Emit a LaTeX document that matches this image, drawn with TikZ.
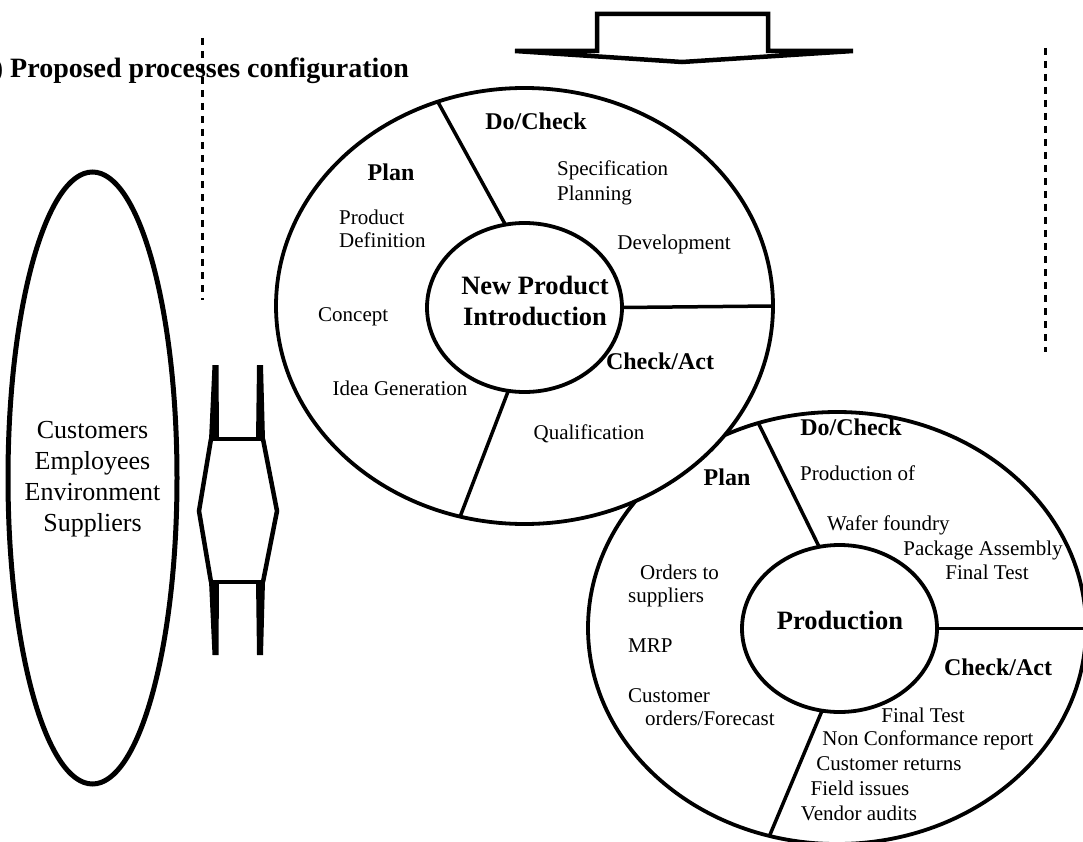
\documentclass[tikz,border=0pt]{standalone}
\usepackage{fontspec}
\setmainfont{Liberation Serif}
\usetikzlibrary{shapes.geometric}
\tikzset{
  ring/.style={draw, ellipse, inner sep=0pt, outer sep=0pt, line width=3.8pt},
  div/.style={line width=3.5pt},
  txt/.style={font=\fontsize{21}{25}\selectfont, inner sep=0pt, anchor=mid},
  txtl/.style={txt, anchor=mid west},
  lab/.style={font=\bfseries\fontsize{24}{28}\selectfont, inner sep=0pt, anchor=mid},
  core/.style={font=\bfseries\fontsize{26.5}{31}\selectfont, inner sep=0pt, anchor=mid},
  stake/.style={font=\fontsize{26}{31}\selectfont, inner sep=0pt, anchor=mid},
  dashline/.style={line width=3pt, dash pattern=on 7pt off 6pt},
  blockarrow/.style={line width=4.5pt, line join=miter},
}
\begin{document}
\begin{tikzpicture}[x=1pt,y=-1pt]
\useasboundingbox (0,0) rectangle (1083,842);
\clip (0,0) rectangle (1083,842);

% title
\node[anchor=base west, font=\bfseries\fontsize{28}{33}\selectfont, inner sep=0pt] (title) at (-6.3,78) {) Proposed processes configuration};

% dashed separators
\coordinate (dl1) at (202,38); \coordinate (dl2) at (202,300);
\coordinate (dr1) at (1045,48); \coordinate (dr2) at (1045,352);
\draw[dashline] (dl1) -- (dl2);
\draw[dashline] (dr1) -- (dr2);

% top block arrow
\draw[blockarrow, fill=white] (597,14) -- (768,14) -- (768,51) -- (853,51) -- (682,62) -- (515,51) -- (597,51) -- cycle;

% stakeholders ellipse
\node[ring, line width=5pt, minimum width=169pt, minimum height=612pt] (stake) at (92.5,478) {};
\node[stake] (s1) at (92.5,436) {Customers};
\node[stake] (s2) at (92.5,467) {Employees};
\node[stake] (s3) at (92.5,498) {Environment};
\node[stake] (s4) at (92.5,529) {Suppliers};

% double arrow
\fill (212.5,365) -- (218.5,365) -- (219,440) -- (209,440) -- cycle;
\fill (209,581) -- (219,581) -- (218.5,655) -- (212.5,655) -- cycle;
\fill (257,365) -- (263,365) -- (265,440) -- (256,440) -- cycle;
\fill (256,581) -- (265,581) -- (263,655) -- (257,655) -- cycle;
\draw[blockarrow] (210,439) -- (264,439);
\draw[blockarrow] (210,582) -- (264,582);
\draw[blockarrow] (211,439) -- (199,511) -- (211,582);
\draw[blockarrow] (263,439) -- (277,511) -- (263,582);

% Production cycle (behind)
\node[ring, minimum width=498pt, minimum height=432pt] (pout) at (837,628) {};
\node[ring, minimum width=195pt, minimum height=167pt] (pin) at (839.5,628.5) {};
\draw[div] (pin.104.1) -- (pout.111.5);
\draw[div] (pin.258.8) -- (pout.252.4);
\draw[div] (pin.east) -- (pin.east -| pout.east);

% NPI cycle
\node[ring, fill=white, minimum width=497pt, minimum height=436pt] (nout) at (524.5,306) {};
\node[ring, minimum width=195pt, minimum height=169pt] (nin) at (524.5,307.5) {};
\draw[div] (nin.103.3) -- (nout.113);
\draw[div] (nin.259.4) -- (nout.253.1);
\draw[div] (nin.east) -- (nout.east);

% NPI texts
\node[lab] (nDo) at (536,127) {Do/Check};
\node[lab] (nPlan) at (391,178) {Plan};
\node[txtl] (nPD1) at (339,222) {Product};
\node[txtl] (nPD2) at (339,245) {Definition};
\node[txtl] (nSP1) at (557,173) {Specification};
\node[txtl] (nSP2) at (557,198) {Planning};
\node[txt] (nDev) at (674,247) {Development};
\node[txtl] (nCon) at (318,319) {Concept};
\node[core] (nC1) at (535,292) {New Product};
\node[core] (nC2) at (535,323) {Introduction};
\node[lab] (nChk) at (660,367) {Check/Act};
\node[txt] (nIdea) at (400,393) {Idea Generation};
\node[txt] (nQual) at (589,437) {Qualification};

% Production texts
\node[lab] (pDo) at (851,433) {Do/Check};
\node[txtl] (pPo) at (800,478) {Production of};
\node[txtl] (pWf) at (827,528) {Wafer foundry};
\node[txt] (pPa) at (983,553) {Package Assembly};
\node[txt] (pFt) at (987,577) {Final Test};
\node[core] (pC) at (840,627) {Production};
\node[lab] (pChk) at (998,673) {Check/Act};
\node[txt] (pFt2) at (923,720) {Final Test};
\node[txt] (pNc) at (928,743) {Non Conformance report};
\node[txt] (pCr) at (889,768) {Customer returns};
\node[txt] (pFi) at (860,793) {Field issues};
\node[txt] (pVa) at (859,818) {Vendor audits};
\node[lab] (pPlan) at (727,483) {Plan};
\node[txtl] (pOr1) at (640,577) {Orders to};
\node[txtl] (pOr2) at (628,600) {suppliers};
\node[txtl] (pMrp) at (628,650) {MRP};
\node[txtl] (pCo1) at (628,700) {Customer};
\node[txtl] (pCo2) at (645,723) {orders/Forecast};
\end{tikzpicture}
\end{document}
